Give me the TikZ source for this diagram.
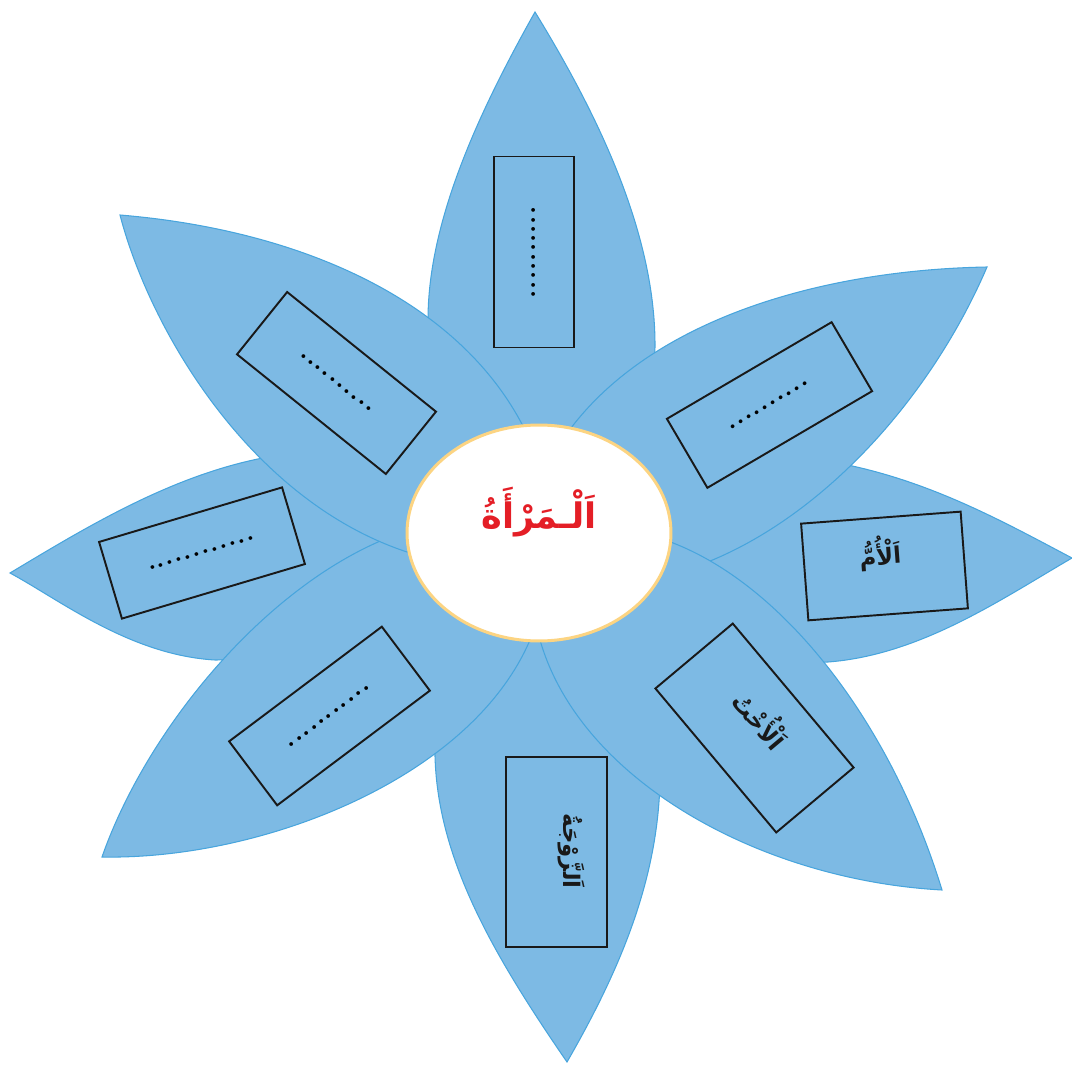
\documentclass[tikz,border=0pt]{standalone}
\usepackage{fontspec}
\usetikzlibrary{shapes.geometric}
\newfontfamily\arabicfont[Script=Arabic]{DejaVu Sans}
\TeXXeTstate=1
\definecolor{petal}{RGB}{125,186,228}
\definecolor{petaledge}{RGB}{72,165,221}
\definecolor{ring}{RGB}{252,212,130}
\definecolor{titlered}{RGB}{228,30,38}
\newcommand\dotrow[1]{\foreach \k in {1,...,#1}{.\kern0.6pt}}
\tikzset{
  petalshape/.style={fill=petal, draw=petaledge, line width=0.6pt},
  dotbox/.style={draw=black!90, line width=1.1pt, minimum width=3.82cm, minimum height=1.6cm, inner sep=0pt, font=\bfseries\fontsize{15}{15}\selectfont},
  labbox/.style={draw=black!90, line width=1.1pt, inner sep=0pt},
  lab/.style={font=\arabicfont\bfseries\fontsize{13}{16}\selectfont, text=black!90, inner sep=0pt},
}
\begin{document}
\begin{tikzpicture}[x=0.02cm, y=-0.02cm]
\useasboundingbox (0,0) rectangle (1072,1067);
% cardinal petals
\draw[petalshape] (535,12) .. controls (480,110) and (428,220) .. (428,320)
  .. controls (428,400) and (480,470) .. (539,480)
  .. controls (600,470) and (655,420) .. (655,345)
  .. controls (655,230) and (595,110) .. (535,12) -- cycle;
\draw[petalshape] (1072,558) .. controls (1000,520) and (920,475) .. (820,460)
  .. controls (720,450) and (640,500) .. (620,535)
  .. controls (650,600) and (750,665) .. (828,662)
  .. controls (920,655) and (1000,600) .. (1072,558) -- cycle;
\draw[petalshape] (567,1062) .. controls (490,950) and (432,850) .. (435,740)
  .. controls (440,660) and (490,600) .. (545,590)
  .. controls (610,600) and (662,680) .. (660,780)
  .. controls (658,880) and (620,970) .. (567,1062) -- cycle;
\draw[petalshape] (10,573) .. controls (90,525) and (180,470) .. (280,455)
  .. controls (360,445) and (420,500) .. (450,535)
  .. controls (400,600) and (300,660) .. (215,660)
  .. controls (130,655) and (60,600) .. (10,573) -- cycle;
% diagonal petals
\draw[petalshape] (987,267) .. controls (820,270) and (650,320) .. (568,432)
  -- (560,530) -- (700,565) .. controls (820,520) and (930,400) .. (987,267) -- cycle;
\draw[petalshape] (410,530) .. controls (280,570) and (150,720) .. (102,857)
  .. controls (260,860) and (470,780) .. (530,640) -- (500,560) -- cycle;
\draw[petalshape] (120,215) .. controls (300,230) and (460,300) .. (525,430)
  -- (500,540) -- (407,552) .. controls (250,500) and (150,330) .. (120,215) -- cycle;
\draw[petalshape] (665,540) .. controls (780,580) and (890,720) .. (942,890)
  .. controls (760,880) and (580,780) .. (540,640) -- (560,560) -- cycle;
% centre
\node[ellipse, draw=ring, line width=1.7pt, fill=white, minimum width=5.28cm, minimum height=4.32cm, inner sep=0pt] (centre) at (539,533) {};
\node[font=\arabicfont\bfseries\fontsize{20}{24}\selectfont, text=titlered, inner sep=0pt] (title) at (539,512) {\beginR اَلْـمَرْأَةُ\endR};
% dotted boxes
\node[dotbox, rotate=90] (btop) at (534,252) {\dotrow{10}};
\node[dotbox, rotate=-38.8] (bul) at (336.5,383) {\dotrow{10}};
\node[dotbox, rotate=30.4] (bur) at (769.5,405) {\dotrow{10}};
\node[dotbox, rotate=16.6] (bleft) at (202,553) {\dotrow{12}};
\node[dotbox, rotate=36.9] (bll) at (329.5,716) {\dotrow{11}};
% labelled boxes
\node[labbox, rotate=4.3, minimum width=3.2cm, minimum height=1.94cm] (bright) at (884.5,566) {};
\node[labbox, rotate=-50, minimum width=3.76cm, minimum height=2.02cm] (blr) at (754.5,728) {};
\node[labbox, rotate=90, minimum width=3.8cm, minimum height=2.02cm] (bbot) at (556.5,852) {};
\node[lab, rotate=4.3] (umm) at (880,553) {\beginR اَلْأُمُّ\endR};
\node[lab, rotate=-50] (ukht) at (763,718) {\beginR اَلْأُخْتُ\endR};
\node[lab, rotate=-90] (zawja) at (571,851) {\beginR اَلزَّوْجَةُ\endR};
\end{tikzpicture}
\end{document}
